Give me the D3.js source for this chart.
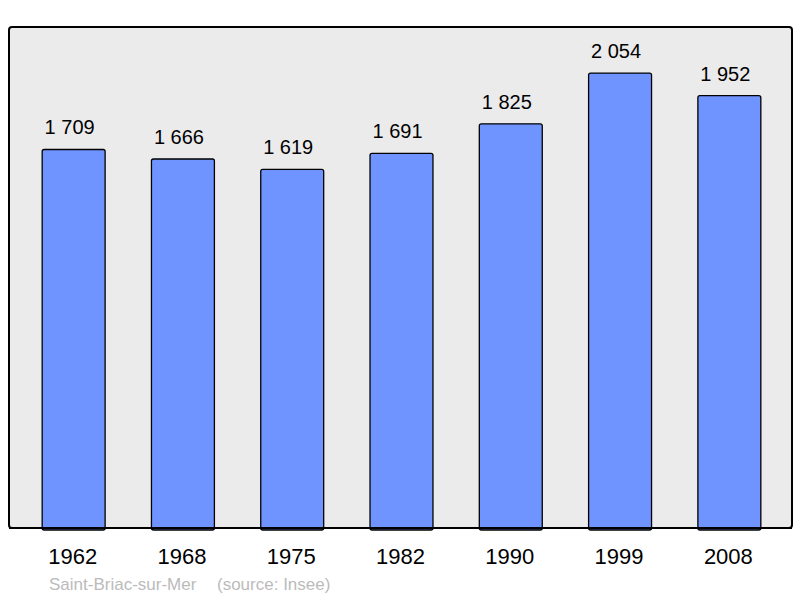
<!DOCTYPE html>
<html><head><meta charset="utf-8">
<script src="https://cdn.jsdelivr.net/npm/d3@7"></script>
<style>body{margin:0;background:#fff}svg{display:block}text{font-family:"Liberation Sans",Arial,sans-serif}</style>
</head><body>
<script>
const years = ["1962","1968","1975","1982","1990","1999","2008"];
const population = [1709,1666,1619,1691,1825,2054,1952];
const valueLabels = ["1 709","1 666","1 619","1 691","1 825","2 054","1 952"];
const commune = "Saint-Briac-sur-Mer";
const source = "(source: Insee)";

const W=800,H=598;
const svg=d3.select("body").append("svg").attr("width",W).attr("height",H);
const frame={l:9,t:27,r:792,b:528};
svg.append("rect").attr("x",frame.l).attr("y",frame.t).attr("width",frame.r-frame.l).attr("height",frame.b-frame.t)
  .attr("rx",3).attr("fill","#ebebeb").attr("stroke","#000").attr("stroke-width",2);

const x=d3.scaleBand().domain(years).range([19,784]).paddingInner(0.424).paddingOuter(0.212);
const y=d3.scaleLinear().domain([0,2262]).range([frame.b,frame.t]);

svg.selectAll("rect.bar").data(years).enter().append("rect").attr("class","bar")
  .attr("x",d=>x(d)).attr("width",x.bandwidth())
  .attr("y",(d,i)=>y(population[i])).attr("height",(d,i)=>frame.b-y(population[i])+2)
  .attr("rx",2).attr("fill","#7094ff").attr("stroke","#000").attr("stroke-width",1.3);

svg.append("line").attr("x1",frame.l).attr("x2",frame.r).attr("y1",frame.b).attr("y2",frame.b).attr("stroke","#000").attr("stroke-width",2);

svg.selectAll("text.val").data(years).enter().append("text").attr("class","val")
  .attr("x",d=>x(d)+x.bandwidth()/2-4).attr("y",(d,i)=>y(population[i])-15)
  .attr("text-anchor","middle").attr("font-size",20).attr("fill","#000")
  .text((d,i)=>valueLabels[i]);

const xAxis=svg.append("g").attr("transform",`translate(-1,${frame.b})`)
  .call(d3.axisBottom(x).tickSize(0).tickPadding(0));
xAxis.select(".domain").remove();
xAxis.selectAll("text").attr("y",36).attr("dy",0).attr("font-size",22).attr("fill","#000")
  .style("font-family",'"Liberation Sans",Arial,sans-serif');

svg.append("text").attr("x",49).attr("y",590).attr("font-size",17).attr("fill","#bbbbbb").text(commune);
svg.append("text").attr("x",217).attr("y",590).attr("font-size",17).attr("fill","#bbbbbb").text(source);
</script>
</body></html>
